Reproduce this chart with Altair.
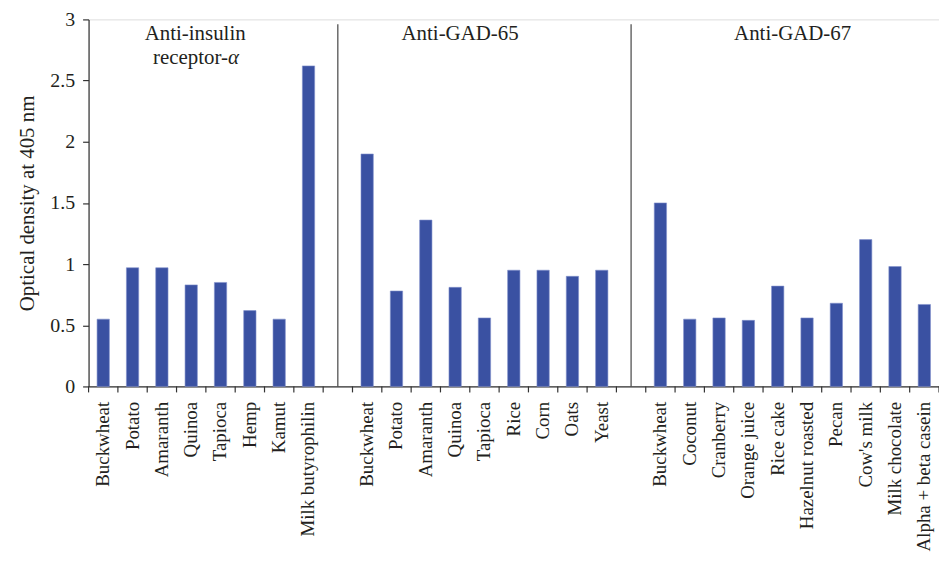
import altair as alt
import pandas as pd

# ---- data ----
g1_foods = ["Buckwheat", "Potato", "Amaranth", "Quinoa", "Tapioca", "Hemp", "Kamut", "Milk butyrophilin"]
g1_vals = [0.55, 0.97, 0.97, 0.83, 0.85, 0.62, 0.55, 2.62]

g2_foods = ["Buckwheat", "Potato", "Amaranth", "Quinoa", "Tapioca", "Rice", "Corn", "Oats", "Yeast"]
g2_vals = [1.90, 0.78, 1.36, 0.81, 0.56, 0.95, 0.95, 0.90, 0.95]

g3_foods = ["Buckwheat", "Coconut", "Cranberry", "Orange juice", "Rice cake", "Hazelnut roasted",
            "Pecan", "Cow's milk", "Milk chocolate", "Alpha + beta casein"]
g3_vals = [1.50, 0.55, 0.56, 0.54, 0.82, 0.56, 0.68, 1.20, 0.98, 0.67]

group_titles = ["Anti-insulin", "receptor-", "α", "Anti-GAD-65", "Anti-GAD-67"]
y_ticks = [0, 0.5, 1, 1.5, 2, 2.5, 3]

# ---- build tables ----
keys = []
bar_rows = []
blank_keys = []
for gi, (foods, vals) in enumerate([(g1_foods, g1_vals), (g2_foods, g2_vals), (g3_foods, g3_vals)]):
    for f, v in zip(foods, vals):
        k = f"{gi}|{f}"
        keys.append(k)
        bar_rows.append({"key": k, "value": v})
    if gi < 2:
        k = f"{gi}|"
        keys.append(k)
        blank_keys.append(k)

bars_df = pd.DataFrame(bar_rows)
keys_df = pd.DataFrame({"key": keys})
last_df = pd.DataFrame({"key": [keys[-1]]})
sep_df = pd.DataFrame({"key": blank_keys, "value": [0, 0], "value2": [2.96, 2.96]})

W, H = 855, 369
FONT = "Liberation Serif"
TXT = "#231f20"
BLUE = "#3A51A2"
AX = "#333333"

xscale = alt.Scale(domain=keys, paddingInner=0, paddingOuter=0)
yscale = alt.Scale(domain=[0, 3], nice=False)

xaxis = alt.Axis(labelAngle=-90, labelExpr="split(datum.label, '|')[1]",
                 ticks=False, labelPadding=15, labelFont=FONT, labelFontSize=19,
                 labelColor=TXT, domainColor=AX, domainWidth=1.2,
                 labelOverlap=False, labelLimit=0)
yaxis = alt.Axis(values=y_ticks, format="~g", grid=False, tickSize=6,
                 tickColor=AX, tickWidth=1.2, domainColor=AX, domainWidth=1.2,
                 labelPadding=8, labelFont=FONT, labelFontSize=20, labelColor=TXT,
                 titleFont=FONT, titleFontSize=21, titleFontWeight="normal",
                 titleColor=TXT, titlePadding=12)
YTITLE = "Optical density at 405 nm"


def X(**kw):
    return alt.X("key:N", scale=xscale, sort=keys, title=None, axis=xaxis, **kw)


def Y(field="value"):
    return alt.Y(f"{field}:Q", scale=yscale, title=YTITLE, axis=yaxis)


bars = alt.Chart(bars_df).mark_bar(
    color=BLUE, stroke="#8291cc", strokeWidth=0.6, width=alt.RelativeBandSize(0.42)
).encode(x=X(), y=Y())

ticks = alt.Chart(keys_df).mark_rule(color=AX, strokeWidth=1.2).encode(
    x=X(bandPosition=0), y=alt.value(H), y2=alt.value(H + 6),
)
last_tick = alt.Chart(last_df).mark_rule(color=AX, strokeWidth=1.2).encode(
    x=X(bandPosition=1), y=alt.value(H), y2=alt.value(H + 6),
)

seps = alt.Chart(sep_df).mark_rule(color="#444444", strokeWidth=1.2).encode(
    x=X(), y=Y(), y2="value2:Q",
)


def title_layer(text, key, yv, dx, align="center", style="normal"):
    df = pd.DataFrame({"key": [key], "value": [yv], "t": [text]})
    return alt.Chart(df).mark_text(font=FONT, fontSize=21, color=TXT, dx=dx,
                                   align=align, baseline="middle", fontStyle=style).encode(
        x=X(), y=Y(), text="t:N",
    )


t1 = title_layer(group_titles[0], "0|Quinoa", 2.878, 4)
t2a = title_layer(group_titles[1], "0|Quinoa", 2.683, 37, align="right")
t2b = title_layer(group_titles[2], "0|Quinoa", 2.683, 37, align="left", style="italic")
t3 = title_layer(group_titles[3], "1|Quinoa", 2.878, 5)
t4 = title_layer(group_titles[4], "2|Rice cake", 2.878, 15)

chart = alt.layer(bars, ticks, last_tick, seps, t1, t2a, t2b, t3, t4).properties(
    width=W, height=H,
    autosize=alt.AutoSizeParams(type="none"),
    padding={"left": 81, "top": 10, "right": 0, "bottom": 168},
).configure_view(stroke=None).configure(background="white")

chart.save("out.html", embed_options={"renderer": "svg", "actions": False})
